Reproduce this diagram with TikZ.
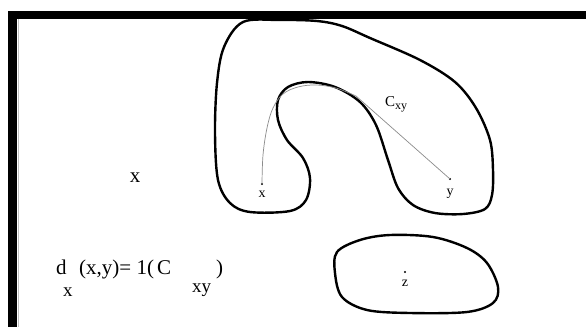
\documentclass[tikz,border=0pt]{standalone}
\usepackage{fontspec}
\setmainfont{Liberation Serif}
\begin{document}
\begin{tikzpicture}[x=1pt,y=-1pt,
  blob/.style={line width=2.4pt, line join=round},
  geo/.style={black!45, line width=0.7pt},
  lab/.style={font=\fontsize{14}{14}\selectfont, inner sep=0pt, anchor=base},
  big/.style={font=\fontsize{21}{21}\selectfont, inner sep=0pt, anchor=base west},
  sub/.style={font=\fontsize{19}{19}\selectfont, inner sep=0pt, anchor=base west},
  pt/.style={circle, fill=black, inner sep=0pt, minimum size=2.2pt}]
\fill[white] (0,0) rectangle (586,327);
\useasboundingbox (0,0) rectangle (586,327);
% frame
\fill[black] (8,11) rectangle (586,19);
\fill[black] (8,11) rectangle (17,327);
\draw[black!25, line width=0.6pt] (18,19) -- (18,327);
% big horseshoe shape
\draw[blob] plot[smooth cycle, tension=0.55] coordinates {
 (243,22) (280,20) (317,21) (342,26) (370,38) (420,60) (455,82) (476,108)
 (490,140) (493,170) (492,195) (485,209) (463,214) (435,213) (413,205)
 (398,188) (388,160) (376,125) (360,102) (335,87) (308,82) (288,87)
 (278,100) (278,120) (287,140) (303,158) (310,178) (306,200) (290,211)
 (250,212) (230,203) (218,180) (215,133) (217,83) (224,47)};
% small blob
\draw[blob] plot[smooth cycle, tension=0.55] coordinates {
 (337,252) (360,240) (390,235) (433,237) (467,248) (487,263) (498,287)
 (493,303) (467,312) (410,313) (367,310) (342,297) (335,273)};
% points
\coordinate (px) at (262,184);
\coordinate (py) at (450,179);
\coordinate (pz) at (405,272);
\node[pt] (dx) at (px) {};
\node[pt] (dy) at (py) {};
\node[pt] (dz) at (pz) {};
\node[lab] (lx) at (262,197) {x};
\node[lab] (ly) at (450,195) {y};
\node[lab] (lz) at (405,286) {z};
% geodesic path
\draw[geo] plot[smooth, tension=0.6] coordinates {
 (px) (263,155) (267,128) (273,108) (283,94) (298,87) (316,85) (336,88) (356,96)}
 -- (py);
\node[inner sep=0pt, anchor=base west] (cxy) at (385,106)
 {\fontsize{15}{15}\selectfont C\raisebox{-3pt}{\fontsize{12}{12}\selectfont xy}};
% standalone x
\node[font=\fontsize{21}{21}\selectfont, inner sep=0pt, anchor=base] (bx) at (135,182) {x};
% formula
\node[big] (fd) at (56,274) {d};
\node[sub] (fdx) at (63,296) {x};
\node[big] (fm) at (79,274) {(x,y)= 1(};
\node[big] (fc) at (157,274) {C};
\node[sub] (fxy) at (192,292) {xy};
\node[big] (fr) at (216,274) {)};
\end{tikzpicture}
\end{document}
